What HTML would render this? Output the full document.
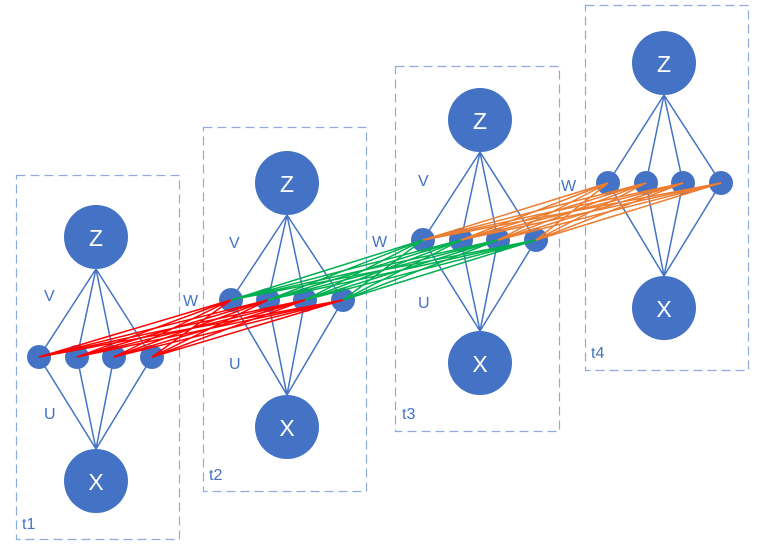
<!DOCTYPE html>
<html><head><meta charset="utf-8"><style>
html,body{margin:0;padding:0;background:#fff;}
svg{display:block;}
text{font-family:"Liberation Sans",sans-serif;}
</style></head><body>
<svg id="s" width="762" height="548" viewBox="0 0 762 548" xmlns="http://www.w3.org/2000/svg">
<g fill="none" stroke="#8faadc" stroke-width="1.2" stroke-dasharray="9,5">
<rect x="16.5" y="175.5" width="163" height="364"/>
<rect x="203.5" y="127.5" width="163" height="364"/>
<rect x="395.5" y="66.5" width="164" height="365"/>
<rect x="585.5" y="5.5" width="163" height="365"/>
</g>
<g id="blue" stroke="#4472c4" stroke-width="1.5"></g>
<g id="circ" fill="#4472c4"></g>
<g id="rec" stroke-width="1.5"></g>
<g fill="#ffffff" font-size="23" text-anchor="middle">
<text x="96" y="246">Z</text><text x="96" y="490">X</text>
<text x="287" y="192">Z</text><text x="287" y="436">X</text>
<text x="480" y="129">Z</text><text x="480" y="372">X</text>
<text x="664" y="72">Z</text><text x="664" y="317">X</text>
</g>
<g fill="#4472c4" font-size="16">
<text x="44" y="301">V</text><text x="44" y="419">U</text><text x="22" y="529">t1</text>
<text x="229" y="248">V</text><text x="229" y="369">U</text><text x="183" y="306">W</text><text x="209" y="480">t2</text>
<text x="418" y="186">V</text><text x="418" y="308">U</text><text x="372" y="247">W</text><text x="402" y="419">t3</text>
<text x="561" y="191">W</text><text x="591" y="358">t4</text>
</g>
</svg>
<script>
var P=[
 {zx:96,zy:237,xy:481,hy:357,hx:[39,77,114,152]},
 {zx:287,zy:183,xy:427,hy:300,hx:[231,268,305,343]},
 {zx:480,zy:120,xy:363,hy:240,hx:[423,461,498,536]},
 {zx:664,zy:63,xy:308,hy:183,hx:[608,646,683,721]}
];
var NS="http://www.w3.org/2000/svg";
function el(p,t,a){var e=document.createElementNS(NS,t);for(var k in a)e.setAttribute(k,a[k]);document.getElementById(p).appendChild(e);}
P.forEach(function(p){
 p.hx.forEach(function(x){
  el("blue","line",{x1:p.zx,y1:p.zy+32,x2:x,y2:p.hy});
  el("blue","line",{x1:x,y1:p.hy,x2:p.zx,y2:p.xy-32});
  el("circ","circle",{cx:x,cy:p.hy,r:12});
 });
 el("circ","circle",{cx:p.zx,cy:p.zy,r:32});
 el("circ","circle",{cx:p.zx,cy:p.xy,r:32});
});
var C=["#ff0000","#00b050","#ed7d31"];
for(var i=0;i<3;i++){
 var a=P[i],b=P[i+1];
 a.hx.forEach(function(x1){b.hx.forEach(function(x2){
  el("rec","line",{x1:x1,y1:a.hy,x2:x2,y2:b.hy,stroke:C[i]});
 });});
}
</script>
</body></html>
